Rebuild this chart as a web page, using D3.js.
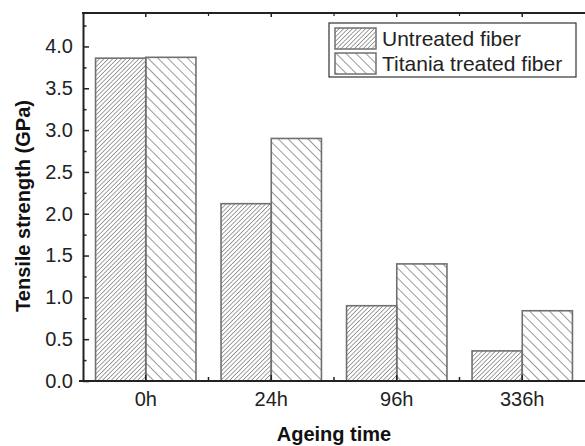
<!DOCTYPE html>
<html>
<head>
<meta charset="utf-8">
<script src="https://cdn.jsdelivr.net/npm/d3@7"></script>
<style>
  html, body { margin: 0; background: #fff; overflow: hidden; }
  svg { display: block; font-family: Arial, "Liberation Sans", sans-serif; }
</style>
</head>
<body>
<div id="chart"></div>
<script>
// Chart data
var categories = ['0h', '24h', '96h', '336h'];
var seriesNames = ['Untreated fiber', 'Titania treated fiber'];
var untreated = [3.86, 2.12, 0.90, 0.36];
var treated = [3.87, 2.90, 1.40, 0.84];
var yTicks = [0.0, 0.5, 1.0, 1.5, 2.0, 2.5, 3.0, 3.5, 4.0];

// Define SVG area
var svgWidth = 585;
var svgHeight = 446;

// Plot area (right edge runs off the picture)
var plotLeft = 83, plotTop = 13, plotBottom = 381, plotRight = 585;

var svg = d3.select('#chart')
    .append('svg')
    .attr('width', svgWidth)
    .attr('height', svgHeight);

// Hatch patterns
var defs = svg.append('defs');
defs.append('pattern')
    .attr('id', 'hatchUp')
    .attr('patternUnits', 'userSpaceOnUse')
    .attr('width', 3.1).attr('height', 3.1)
    .attr('patternTransform', 'rotate(45)')
  .append('line')
    .attr('x1', 0).attr('y1', 0).attr('x2', 0).attr('y2', 3.1)
    .attr('stroke', '#444').attr('stroke-width', 1);
defs.append('pattern')
    .attr('id', 'hatchDown')
    .attr('patternUnits', 'userSpaceOnUse')
    .attr('width', 7).attr('height', 7)
    .attr('patternTransform', 'rotate(-45)')
  .append('line')
    .attr('x1', 0).attr('y1', 0).attr('x2', 0).attr('y2', 7)
    .attr('stroke', '#333').attr('stroke-width', 1);

var fills = ['url(#hatchUp)', 'url(#hatchDown)'];
var series = [untreated, treated];

// Scales (band step matches the category spacing, last band runs past the edge)
var step = 125.5;
var x = d3.scaleBand()
    .domain(categories)
    .range([plotLeft, plotLeft + step * categories.length])
    .paddingInner(0.2)
    .paddingOuter(0.1);
var xOuter = d3.scaleBand()
    .domain(categories)
    .range(x.range());
var xSub = d3.scaleBand()
    .domain([0, 1])
    .range([0, x.bandwidth()]);
var y = d3.scaleLinear()
    .domain([0, 4.4])
    .range([plotBottom, plotTop]);

// Bars
series.forEach(function(vals, s) {
    svg.append('g').selectAll('rect')
        .data(vals)
        .enter()
        .append('rect')
        .attr('x', (d, i) => x(categories[i]) + xSub(s))
        .attr('y', d => y(d))
        .attr('width', xSub.bandwidth())
        .attr('height', d => plotBottom - y(d))
        .attr('fill', fills[s])
        .attr('stroke', '#707070')
        .attr('stroke-width', 1.6);
});

// Axes
var axisColor = '#222';
var yMinor = d3.range(0.25, 4.4, 0.5);

var yAxis = svg.append('g')
    .attr('transform', `translate(${plotLeft},0)`)
    .call(d3.axisLeft(y).tickValues(yTicks).tickFormat(d3.format('.1f'))
        .tickSizeInner(-6).tickSizeOuter(0).tickPadding(10));
yAxis.selectAll('text').style('font-size', '20px').attr('fill', '#222');

svg.append('g')
    .attr('transform', `translate(${plotLeft},0)`)
    .call(d3.axisLeft(y).tickValues(yMinor).tickFormat('')
        .tickSizeInner(-3.5).tickSizeOuter(0))
    .select('.domain').remove();

var xMid = categories.slice(1).map(c => xOuter(c));
var xAxis = svg.append('g')
    .attr('transform', `translate(0,${plotBottom})`)
    .call(d3.axisBottom(x).tickSizeInner(-6).tickSizeOuter(0).tickPadding(11));
xAxis.selectAll('text').style('font-size', '20px').attr('fill', '#222');
xAxis.select('.domain').remove();
xMid.forEach(function(px) {
    svg.append('line')
        .attr('x1', px).attr('x2', px)
        .attr('y1', plotBottom).attr('y2', plotBottom - 4)
        .attr('stroke', axisColor).attr('stroke-width', 1.5);
});

// Top axis
var topAxis = svg.append('g')
    .attr('transform', `translate(0,${plotTop})`)
    .call(d3.axisTop(x).tickSizeInner(-4).tickSizeOuter(0).tickFormat(''));
topAxis.select('.domain').remove();
xMid.forEach(function(px) {
    svg.append('line')
        .attr('x1', px).attr('x2', px)
        .attr('y1', plotTop).attr('y2', plotTop + 3)
        .attr('stroke', axisColor).attr('stroke-width', 1.2);
});

svg.selectAll('.domain').attr('stroke', axisColor).attr('stroke-width', 2);
svg.selectAll('.tick line').attr('stroke', axisColor).attr('stroke-width', 1.5);
// horizontal frame lines
svg.append('line')
    .attr('x1', plotLeft - 1).attr('x2', plotRight).attr('y1', plotTop).attr('y2', plotTop)
    .attr('stroke', axisColor).attr('stroke-width', 2);
svg.append('line')
    .attr('x1', plotLeft - 4).attr('x2', plotRight).attr('y1', plotBottom).attr('y2', plotBottom)
    .attr('stroke', axisColor).attr('stroke-width', 2);

// Axis titles
svg.append('text')
    .attr('transform', `translate(30,206) rotate(-90)`)
    .attr('text-anchor', 'middle')
    .style('font-size', '20px')
    .style('font-weight', 'bold')
    .attr('fill', '#111')
    .text('Tensile strength (GPa)');

svg.append('text')
    .attr('x', 334)
    .attr('y', 441)
    .attr('text-anchor', 'middle')
    .style('font-size', '20px')
    .style('font-weight', 'bold')
    .attr('fill', '#111')
    .text('Ageing time');

// Legend
var legend = svg.append('g').attr('transform', 'translate(329,23)');
legend.append('rect')
    .attr('width', 247).attr('height', 54)
    .attr('fill', '#fff').attr('stroke', '#333').attr('stroke-width', 1.2);
seriesNames.forEach(function(name, i) {
    var row = legend.append('g').attr('transform', `translate(6,${5 + i * 25})`);
    row.append('rect')
        .attr('width', 41).attr('height', 21)
        .attr('fill', fills[i])
        .attr('stroke', '#707070').attr('stroke-width', 1.5);
    row.append('text')
        .attr('x', 47).attr('y', 17.5)
        .style('font-size', '21px')
        .attr('fill', '#222')
        .text(name);
});
</script>
</body>
</html>
